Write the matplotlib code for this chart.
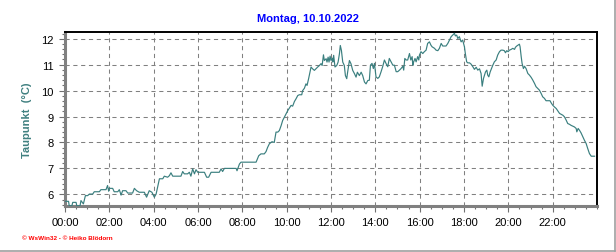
import matplotlib
matplotlib.use("Agg")
import matplotlib.pyplot as plt
from matplotlib.ticker import MultipleLocator, FixedLocator
from matplotlib.lines import Line2D

title = "Montag, 10.10.2022"
ylabel = "Taupunkt  (°C)"
footer = "© WsWin32 - © Heiko Blödorn"
xtick_labels = ["00:00", "02:00", "04:00", "06:00", "08:00", "10:00",
                "12:00", "14:00", "16:00", "18:00", "20:00", "22:00"]
yticks = [6, 7, 8, 9, 10, 11, 12]

hours = [
    0.0, 0.16, 0.19, 0.31, 0.35, 0.5, 0.53, 0.68, 0.72, 0.83, 0.92, 1.02, 1.1, 1.25,
    1.32, 1.55, 1.62, 1.85, 1.92, 1.97, 2.0, 2.15, 2.22, 2.38, 2.45, 2.53, 2.6, 2.75,
    2.83, 3.05, 3.13, 3.23, 3.35, 3.58, 3.68, 3.8, 3.92, 4.03, 4.11, 4.26, 4.41, 4.48,
    4.63, 4.71, 4.78, 4.86, 5.23, 5.31, 5.38, 5.53, 5.61, 5.68, 5.76, 5.84, 5.91, 5.99,
    6.29, 6.39, 6.48, 6.59, 6.96, 7.04, 7.11, 7.19, 7.72, 7.76, 7.87, 7.94, 8.62, 8.74,
    8.84, 8.99, 9.07, 9.14, 9.22, 9.34, 9.44, 9.52, 9.6, 9.67, 9.75, 9.82, 9.9, 9.97,
    10.05, 10.12, 10.2, 10.27, 10.35, 10.42, 10.5, 10.57, 10.68, 10.72, 10.8, 10.87,
    10.92, 10.99, 11.05, 11.1, 11.17, 11.25, 11.32, 11.4, 11.48, 11.55, 11.6, 11.66,
    11.7, 11.78, 11.82, 11.87, 11.91, 11.96, 12.0, 12.05, 12.08, 12.12, 12.18, 12.26,
    12.32, 12.38, 12.42, 12.47, 12.53, 12.6, 12.65, 12.71, 12.75, 12.83, 12.9, 12.98,
    13.06, 13.13, 13.19, 13.28, 13.36, 13.43, 13.51, 13.58, 13.66, 13.73, 13.78, 13.85,
    13.91, 13.96, 14.03, 14.11, 14.18, 14.26, 14.33, 14.41, 14.48, 14.56, 14.63, 14.71,
    14.79, 14.86, 14.94, 15.01, 15.09, 15.16, 15.24, 15.28, 15.33, 15.39, 15.46, 15.54,
    15.6, 15.66, 15.69, 15.73, 15.79, 15.84, 15.91, 15.96, 15.99, 16.06, 16.14, 16.21,
    16.29, 16.36, 16.44, 16.51, 16.56, 16.67, 16.74, 16.82, 16.89, 16.97, 17.04, 17.19,
    17.27, 17.42, 17.57, 17.61, 17.67, 17.72, 17.79, 17.87, 17.94, 18.02, 18.06, 18.12,
    18.17, 18.25, 18.32, 18.4, 18.47, 18.55, 18.62, 18.7, 18.77, 18.82, 18.88, 18.97,
    19.03, 19.07, 19.12, 19.18, 19.24, 19.3, 19.37, 19.45, 19.52, 19.6, 19.67, 19.75,
    19.82, 19.87, 19.93, 19.99, 20.05, 20.13, 20.2, 20.28, 20.32, 20.38, 20.43, 20.5,
    20.53, 20.58, 20.62, 20.68, 20.73, 20.8, 20.88, 20.95, 21.03, 21.1, 21.18, 21.25,
    21.33, 21.4, 21.48, 21.55, 21.63, 21.7, 21.88, 21.93, 22.0, 22.08, 22.16, 22.23,
    22.31, 22.46, 22.53, 22.61, 22.68, 22.76, 22.83, 22.91, 22.98, 23.06, 23.09, 23.15,
    23.21, 23.28, 23.36, 23.43, 23.51, 23.58, 23.66, 23.74, 23.89,
]

dewpoint = [
    5.73, 5.73, 5.56, 5.56, 5.69, 5.69, 5.56, 5.56, 5.76, 5.63, 5.95, 5.95, 6.01, 6.01,
    6.1, 6.1, 6.18, 6.18, 6.34, 6.12, 6.23, 6.23, 6.1, 6.1, 6.18, 5.97, 6.14, 6.14,
    6.05, 6.05, 6.23, 6.14, 6.08, 6.08, 5.89, 6.14, 6.08, 5.89, 6.01, 6.6, 6.6, 6.7,
    6.66, 6.72, 6.83, 6.7, 6.7, 6.88, 6.79, 6.79, 6.85, 6.7, 6.98, 6.79, 6.95, 6.85,
    6.85, 6.66, 6.66, 6.85, 6.85, 6.98, 6.88, 7.0, 7.0, 6.91, 7.17, 7.24, 7.24, 7.49,
    7.56, 7.56, 7.65, 7.81, 7.95, 8.03, 8.0, 8.4, 8.4, 8.46, 8.65, 8.85, 8.98, 9.1,
    9.23, 9.32, 9.43, 9.4, 9.58, 9.68, 9.81, 9.84, 9.84, 10.0, 10.09, 10.26,
    10.2, 10.46, 10.71, 10.91, 10.84, 10.78, 10.84, 10.91, 10.97, 11.04, 10.97, 11.38,
    11.16, 11.23, 11.1, 11.29, 11.1, 11.33, 11.16, 11.25, 11.1, 11.36, 10.91, 10.97,
    11.1, 11.42, 11.74, 11.55, 11.1, 10.97, 10.58, 10.46, 10.71, 11.16, 11.04, 10.78,
    10.65, 10.52, 10.71, 10.58, 10.71, 10.58, 10.33, 10.26, 10.39, 10.4, 10.98, 11.05,
    10.85, 11.05, 10.53, 10.47, 10.53, 10.73, 10.92, 11.18, 11.05, 10.92, 11.24, 11.11,
    10.98, 10.98, 10.73, 10.73, 10.79, 10.85, 10.94, 10.79, 11.24, 11.18, 11.18, 11.43,
    11.18, 11.31, 10.98, 11.11, 11.24, 11.11, 11.31, 11.18, 11.37, 11.5, 11.43, 11.5,
    11.56, 11.82, 11.88, 11.75, 11.69, 11.63, 11.56, 11.54, 11.63, 11.82, 11.72, 11.72,
    11.82, 12.08, 12.21, 12.11, 12.14, 12.01, 12.08, 11.88, 11.95, 11.69, 11.43, 11.11,
    11.07, 11.07, 11.02, 10.92, 10.82, 10.9, 10.79, 10.84, 10.66, 10.17, 10.47, 10.72,
    10.79, 10.6, 10.53, 10.72, 10.85, 10.98, 11.11, 11.18, 11.37, 11.5, 11.56, 11.56,
    11.54, 11.46, 11.54, 11.5, 11.56, 11.59, 11.63, 11.59, 11.67, 11.72, 11.75, 11.79,
    11.69, 11.31, 11.05, 10.85, 10.94, 10.85, 10.66, 10.6, 10.51, 10.41, 10.28, 10.15,
    10.08, 10.02, 9.89, 9.76, 9.7, 9.61, 9.61, 9.53, 9.44, 9.37, 9.31, 9.22,
    9.12, 9.05, 8.99, 8.86, 8.73, 8.7, 8.66, 8.63, 8.6, 8.54, 8.41, 8.54,
    8.47, 8.37, 8.22, 8.09, 7.96, 7.77, 7.57, 7.47, 7.47,
]

W, H = 616, 253
fig = plt.figure(figsize=(W / 100, H / 100), dpi=100)
fig.patch.set_facecolor("white")
ax = fig.add_axes([65 / W, 1 - 207 / H, (597 - 65) / W, (207 - 33) / H])

ax.plot(hours, dewpoint, color="#3a7f7f", lw=0.85, zorder=3)

ax.set_xlim(0, 24)
ax.set_ylim(5.55, 12.26)

ax.xaxis.set_major_locator(FixedLocator(list(range(0, 24, 2))))
ax.set_xticklabels(xtick_labels)
ax.xaxis.set_minor_locator(MultipleLocator(0.5))
ax.yaxis.set_major_locator(FixedLocator(yticks))
ax.yaxis.set_minor_locator(MultipleLocator(0.2))

for lab in ax.get_xticklabels() + ax.get_yticklabels():
    lab.set_fontfamily("Liberation Sans")
    lab.set_fontsize(8)

ax.tick_params(axis="both", which="major", direction="out", length=4, width=0.8,
               color="#707070", pad=4, labelcolor="black")
ax.tick_params(axis="both", which="minor", direction="out", length=2.5, width=0.8,
               color="#707070")

ax.grid(True, which="major", color="#808080", lw=0.75, linestyle=(0, (4, 3.5)))

ax.spines["left"].set_color("#808080")
ax.spines["left"].set_linewidth(2.2)
ax.spines["bottom"].set_color("#808080")
ax.spines["bottom"].set_linewidth(2.2)
ax.spines["top"].set_color("black")
ax.spines["top"].set_linewidth(1.4)
ax.spines["right"].set_color("black")
ax.spines["right"].set_linewidth(1.4)

fig.text(308 / W, 1 - 19 / H, title, ha="center", va="center", color="#0000ff",
         fontsize=8, fontweight="bold", family="Liberation Sans")
fig.text(27 / W, 1 - 120 / H, ylabel, ha="center", va="center", rotation=90,
         color="#408080", fontsize=8, fontweight="bold", family="Liberation Sans")
fig.text(22 / W, 1 - 239 / H, footer, ha="left", va="center", color="#ff0000",
         fontsize=4.6, fontweight="bold", family="Liberation Sans")

# outer frame (right and bottom edge)
fig.add_artist(Line2D([615 / W, 615 / W], [1 - 251.5 / H, 1], transform=fig.transFigure,
                      color="#a0a0a0", lw=1.2))
fig.add_artist(Line2D([0, 615 / W], [1 - 251.5 / H, 1 - 251.5 / H], transform=fig.transFigure,
                      color="#a0a0a0", lw=1.2))

fig.savefig("out.png", dpi=100, facecolor="white")
